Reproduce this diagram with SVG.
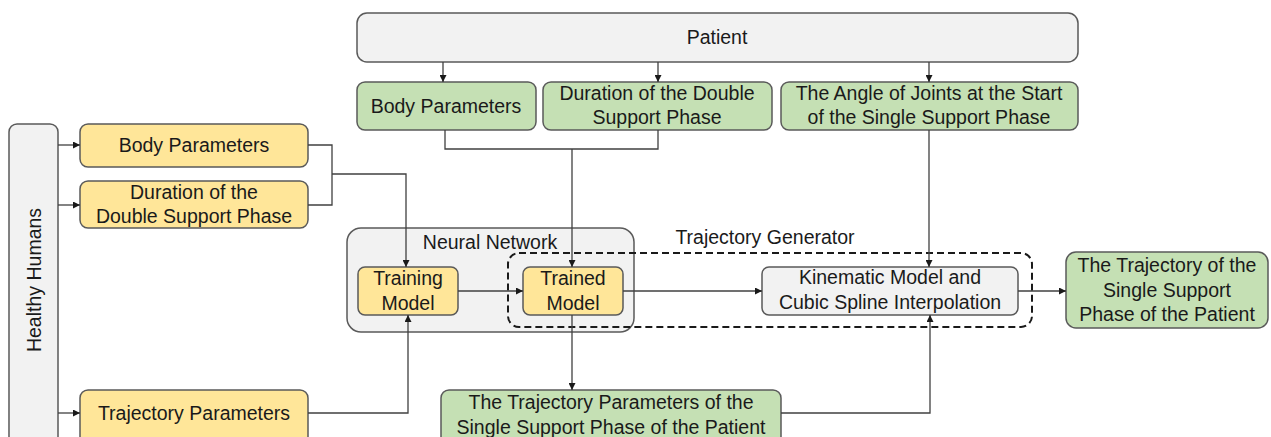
<svg xmlns="http://www.w3.org/2000/svg" width="1271" height="437" viewBox="0 0 1271 437">
<defs>
<style>
.y{fill:#FFE699;stroke:#5a5a5a;stroke-width:1.5}
.g{fill:#C5E0B4;stroke:#5a5a5a;stroke-width:1.5}
.w{fill:#F2F2F2;stroke:#5a5a5a;stroke-width:1.5}
.t{font-family:"Liberation Sans",Arial,sans-serif;font-size:19.5px;fill:#1a1a1a;text-anchor:middle}
.c{fill:none;stroke:#404040;stroke-width:1.3}
.a{marker-end:url(#ah)}
.d{fill:none;stroke:#1a1a1a;stroke-width:2;stroke-dasharray:7 4}
</style>
<marker id="ah" viewBox="0 0 10 10" refX="10" refY="5" markerWidth="7" markerHeight="7" markerUnits="userSpaceOnUse" orient="auto">
<path d="M0,0 L10,5 L0,10 z" fill="#1a1a1a"/>
</marker>
</defs>
<rect width="1271" height="437" fill="#ffffff"/>

<g id="neural-network">
<rect class="w" x="347" y="228" width="287" height="104" rx="14"/>
<text class="t" x="490" y="249">Neural Network</text>
</g>

<g id="patient">
<rect class="w" x="357" y="13" width="721" height="49" rx="10"/>
<text class="t" x="717" y="44">Patient</text>
</g>

<g id="healthy-humans">
<rect class="w" x="9" y="124" width="49" height="325" rx="8"/>
<text class="t" transform="translate(41,280) rotate(-90)">Healthy Humans</text>
</g>

<g id="p-body">
<rect class="g" x="357" y="82" width="179" height="48" rx="8"/>
<text class="t" x="446" y="113">Body Parameters</text>
</g>
<g id="p-duration">
<rect class="g" x="543" y="82" width="229" height="48" rx="8"/>
<text class="t" x="657" y="100">Duration of the Double</text>
<text class="t" x="657" y="124">Support Phase</text>
</g>
<g id="p-angle">
<rect class="g" x="781" y="82" width="297" height="48" rx="8"/>
<text class="t" x="929" y="100">The Angle of Joints at the Start</text>
<text class="t" x="929" y="124">of the Single Support Phase</text>
</g>

<g id="h-body">
<rect class="y" x="80" y="124" width="228" height="43" rx="8"/>
<text class="t" x="194" y="152">Body Parameters</text>
</g>
<g id="h-duration">
<rect class="y" x="80" y="181" width="228" height="47" rx="8"/>
<text class="t" x="194" y="199">Duration of the</text>
<text class="t" x="194" y="223">Double Support Phase</text>
</g>
<g id="h-trajectory">
<rect class="y" x="80" y="390" width="228" height="60" rx="8"/>
<text class="t" x="194" y="420">Trajectory Parameters</text>
</g>

<g id="training-model">
<rect class="y" x="358" y="267" width="100" height="48" rx="7"/>
<text class="t" x="408" y="285">Training</text>
<text class="t" x="408" y="310">Model</text>
</g>
<g id="trained-model">
<rect class="y" x="523" y="267" width="100" height="48" rx="7"/>
<text class="t" x="573" y="285">Trained</text>
<text class="t" x="573" y="310">Model</text>
</g>

<g id="trajectory-generator">
<rect class="d" x="508" y="253" width="524" height="74" rx="11"/>
<text class="t" x="765" y="244">Trajectory Generator</text>
</g>

<g id="kinematic">
<rect class="w" x="762" y="267" width="256" height="48" rx="7"/>
<text class="t" x="890" y="284">Kinematic Model and</text>
<text class="t" x="890" y="309">Cubic Spline Interpolation</text>
</g>

<g id="output">
<rect class="g" x="1066" y="252" width="202" height="76" rx="10"/>
<text class="t" x="1167" y="272">The Trajectory of the</text>
<text class="t" x="1167" y="297">Single Support</text>
<text class="t" x="1167" y="321">Phase of the Patient</text>
</g>

<g id="p-trajectory-params">
<rect class="g" x="441" y="390" width="340" height="60" rx="8"/>
<text class="t" x="611" y="409">The Trajectory Parameters of the</text>
<text class="t" x="611" y="434">Single Support Phase of the Patient</text>
</g>

<g id="connectors">
<path class="c a" d="M443,62 V82"/>
<path class="c a" d="M658,62 V82"/>
<path class="c a" d="M929,62 V82"/>
<path class="c a" d="M58,145 H80"/>
<path class="c a" d="M58,205 H80"/>
<path class="c a" d="M58,413 H80"/>
<path class="c" d="M308,145 H332 V205 H308"/>
<path class="c a" d="M332,174 H406 V267"/>
<path class="c a" d="M308,413 H408 V315"/>
<path class="c" d="M445,130 V149 H658 V130"/>
<path class="c a" d="M572,149 V267"/>
<path class="c a" d="M458,291 H523"/>
<path class="c a" d="M623,291 H762"/>
<path class="c a" d="M572,315 V390"/>
<path class="c a" d="M929,130 V267"/>
<path class="c a" d="M781,413 H930 V315"/>
<path class="c a" d="M1018,291 H1066"/>
</g>
</svg>
